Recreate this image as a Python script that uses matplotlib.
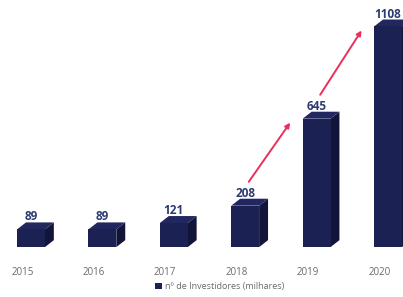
import numpy as np
import matplotlib
matplotlib.use("Agg")
from matplotlib import pyplot as plt
from matplotlib.patches import Polygon

years = ['2015', '2016', '2017', '2018', '2019', '2020']
investidores = [89, 89, 121, 208, 645, 1108]
legend_label = 'nº de Investidores (milhares)'

front_color = '#1c2153'
side_color = '#121539'
top_color = '#222760'
label_color = '#2c3b72'
arrow_color = '#ea2f5c'

plt.rcParams['font.family'] = ['Open Sans', 'DejaVu Sans']

fig = plt.figure(figsize=(4.03, 2.97), dpi=100)
ax = fig.add_axes([0, 0.168, 1, 0.832])

x = np.arange(len(years))
width = 0.39
dx, dy = 0.125, 35   # 3d depth offset

bars = ax.bar(x, investidores, width=width, color=front_color, label=legend_label, zorder=3)

for xi, v in zip(x, investidores):
    left, right = xi - width / 2, xi + width / 2
    side = Polygon([(right, 0), (right + dx, dy), (right + dx, v + dy), (right, v)],
                   closed=True, facecolor=side_color, edgecolor='none', zorder=2)
    top = Polygon([(left, v), (left + dx, v + dy), (right + dx, v + dy), (right, v)],
                  closed=True, facecolor=top_color, edgecolor='none', zorder=2)
    ax.add_patch(side)
    ax.add_patch(top)
    ax.text(xi, v + dy * 0.85, str(v), ha='center', va='bottom', fontsize=8.5,
            fontweight='bold', color=label_color, zorder=4)

# growth arrows between the last bars
for i in [3, 4]:
    start = (x[i] + 0.05, investidores[i] + 120)
    end = (x[i + 1] - 0.37, investidores[i + 1] - 20)
    ax.annotate('', xy=end, xytext=start,
                arrowprops=dict(arrowstyle='-|>', color=arrow_color, lw=1.4,
                                mutation_scale=7, shrinkA=0, shrinkB=0))

ax.set_xlim(-0.434, 5.21)
ax.set_ylim(0, 1241)
ax.set_xticks(x - 0.12)
ax.set_xticklabels(years, fontsize=7, color='#6a6a6a')
ax.tick_params(axis='x', length=0, pad=14)
ax.set_yticks([])
for s in ax.spines.values():
    s.set_visible(False)

fig.legend(handles=[bars], labels=[legend_label], loc='center', bbox_to_anchor=(0.545, 0.034),
           frameon=False, fontsize=6.5, handlelength=0.7, handleheight=0.7,
           handletextpad=0.3, labelcolor='#6a6a6a')

fig.savefig('out.png', dpi=100)
